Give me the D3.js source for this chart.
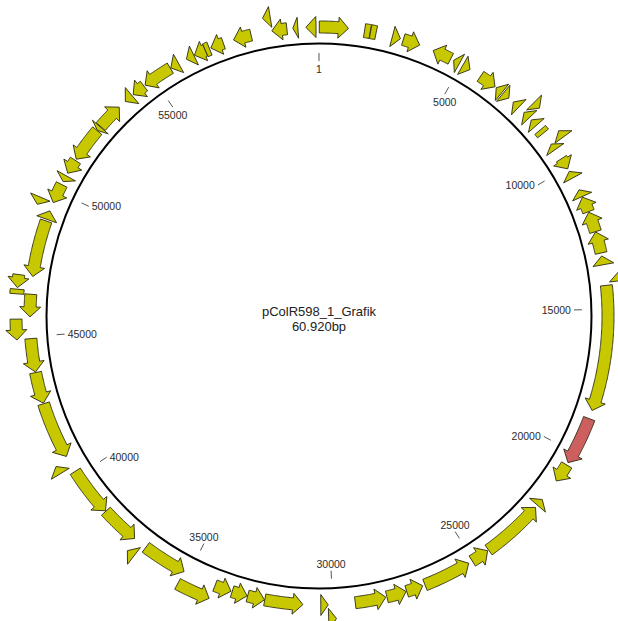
<!DOCTYPE html>
<html><head><meta charset="utf-8">
<script src="https://cdn.jsdelivr.net/npm/d3@7"></script>
<style>html,body{margin:0;padding:0;background:#fff;} svg{display:block;}</style>
</head><body>
<svg id="chart" width="618" height="621"></svg>
<script>
const plasmidName = "pColR598_1_Grafik";
const plasmidSizeLabel = "60.920bp";
const genomeLength = 60920;
const tickPositions = [1, 5000, 10000, 15000, 20000, 25000, 30000, 35000, 40000, 45000, 50000, 55000];
const tickLabels = ["1", "5000", "10000", "15000", "20000", "25000", "30000", "35000", "40000", "45000", "50000", "55000"];

// gene features (bp), strand: 1 forward, -1 reverse, 0 no direction; track: 0 inner, 1 outer
const geneStart  = [10, 1535, 1740, 2490, 2870, 3940, 4700, 5050, 5750, 6400, 6700, 7150, 7650, 7650, 8000, 8450, 8850, 9050, 9650, 10150,
                    10850, 11120, 11670, 12370, 13200, 13800, 14200, 18750, 20480, 21900, 22250, 24420, 25180, 26900, 27490, 28200, 29900, 30150, 31000, 32300,
                    32900, 33460, 34060, 35170, 36830, 37170, 38520, 40380, 40770, 42720, 43800, 44920, 45660, 46400, 46600, 47020, 49000, 49350, 49600, 50380,
                    50700, 51250, 52450, 52620, 53800, 54150, 54660, 55700, 56300, 56600, 57000, 57200, 58010, 59100, 59330, 60040, 60480];
const geneEnd    = [990, 1730, 1930, 2770, 3450, 4590, 4920, 5330, 6350, 6650, 6950, 7400, 7900, 7900, 8250, 8600, 9100, 9280, 10050, 10400,
                    11100, 11650, 12360, 13100, 13500, 14100, 18460, 20390, 21120, 22150, 24380, 25040, 26820, 27470, 28160, 29240, 30150, 30400, 32290, 32880,
                    33420, 34030, 35170, 36690, 37100, 38500, 40190, 40650, 42700, 43780, 44930, 45590, 46420, 46550, 47020, 48940, 49300, 49600, 50270, 50600,
                    51200, 52440, 52600, 53520, 54100, 54610, 55680, 56000, 56580, 57000, 57150, 57650, 58620, 59350, 59840, 60210, 60820];
const geneStrand = [1, 0, 0, 1, 1, -1, -1, 1, 1, -1, 1, -1, 1, -1, -1, 0, -1, -1, 1, -1,
                    -1, -1, -1, -1, -1, -1, 1, 1, 1, -1, -1, -1, -1, -1, -1, -1, -1, -1, -1, -1,
                    -1, -1, -1, -1, 1, -1, -1, 1, -1, -1, -1, -1, -1, 0, -1, -1, 1, -1, -1, -1,
                    -1, -1, -1, 1, -1, -1, -1, -1, -1, -1, 0, -1, -1, -1, -1, -1, -1];
const geneTrack  = [0, 0, 0, 0, 0, 0, 0, 0, 0, 0, 0, 0, 1, 0, 0, 0, 1, 0, 0, 0,
                    0, 0, 0, 0, 0, 1, 0, 0, 0, 0, 0, 0, 0, 0, 0, 0, 1, 0, 0, 0,
                    0, 0, 1, 0, 1, 0, 0, 1, 0, 0, 0, 1, 0, 1, 1, 0, 0, 1, 0, 0,
                    0, 0, 0, 0, 0, 0, 0, 0, 0, 0, 0, 0, 0, 1, 0, 0, 0];
const highlightedGenes = [28]; // 1-based order of the red feature

const cx = 319, cy = 316, R = 272.5;
const svg = d3.select("#chart");
const angle = d3.scaleLinear().domain([0, genomeLength]).range([0, 2 * Math.PI]);
const trackRadius = d3.scaleOrdinal().domain([0, 1]).range([289, 303]);
const colorScale = d3.scaleOrdinal().domain(["cds", "hl"]).range(["#c8c800", "#cd5f5f"]);

function pt(r, a) { return [cx + r * Math.sin(a), cy - r * Math.cos(a)]; }
function arcPts(r, a0, a1) {
  const n = Math.max(1, Math.ceil(Math.abs(a1 - a0) / 0.004));
  const out = [];
  for (let i = 0; i <= n; i++) out.push(pt(r, a0 + (a1 - a0) * i / n));
  return out;
}
function genePoints(s, e, strand, rc) {
  const a0 = angle(s), a1 = angle(e);
  const hb = 6, hh = 10.5, headA = 10 / rc;
  if (strand === 0) {
    return arcPts(rc + 7, a0, a1).concat(arcPts(rc - 7, a1, a0));
  }
  const tipA = strand > 0 ? a1 : a0;
  const tailA = strand > 0 ? a0 : a1;
  const dir = strand > 0 ? 1 : -1;
  const baseA = tipA - dir * headA;
  if (dir * (baseA - tailA) > 0) {
    return arcPts(rc + hb, tailA, baseA)
      .concat([pt(rc + hh, baseA), pt(rc, tipA), pt(rc - hh, baseA)])
      .concat(arcPts(rc - hb, baseA, tailA));
  }
  return [pt(rc + hh, tailA), pt(rc, tipA), pt(rc - hh, tailA)];
}

const genes = geneStart.map((s, i) => ({
  s, e: geneEnd[i], strand: geneStrand[i], track: geneTrack[i],
  type: highlightedGenes.includes(i + 1) ? "hl" : "cds"
}));

const line = d3.line();
svg.append("g").selectAll("path").data(genes).join("path")
  .attr("d", d => line(genePoints(d.s, d.e, d.strand, trackRadius(d.track))) + "Z")
  .attr("fill", d => colorScale(d.type))
  .attr("stroke", "#2a2a12")
  .attr("stroke-width", 0.9)
  .attr("stroke-linejoin", "miter");

// backbone circle
svg.append("circle").attr("cx", cx).attr("cy", cy).attr("r", R)
  .attr("fill", "none").attr("stroke", "#000").attr("stroke-width", 2);

// ticks
const tg = svg.append("g");
tickPositions.forEach((p, i) => {
  const a = angle(p === 1 ? 0 : p);
  const [x1, y1] = pt(263, a), [x2, y2] = pt(255, a);
  tg.append("line").attr("x1", x1).attr("y1", y1).attr("x2", x2).attr("y2", y2)
    .attr("stroke", "#555").attr("stroke-width", 1);
  const sa = Math.sin(a), ca = Math.cos(a);
  const t = tg.append("text").text(tickLabels[i])
    .attr("font-family", "'Liberation Sans', Arial, sans-serif")
    .attr("font-size", 10.5).attr("fill", "#2b2b2b");
  if (Math.abs(sa) > 0.7) {
    t.attr("x", x2 - (sa > 0 ? 3 : -3)).attr("y", y2 + 3.7)
      .attr("text-anchor", sa > 0 ? "end" : "start");
  } else if (ca > 0) {
    t.attr("x", x2).attr("y", y2 + 11.5).attr("text-anchor", "middle");
  } else {
    t.attr("x", x2).attr("y", y2 - 3).attr("text-anchor", "middle");
  }
});

// center labels
svg.append("text").text(plasmidName).attr("x", cx).attr("y", 316)
  .attr("text-anchor", "middle").attr("font-family", "'Liberation Sans', Arial, sans-serif")
  .attr("font-size", 13).attr("fill", "#222");
svg.append("text").text(plasmidSizeLabel).attr("x", cx).attr("y", 331)
  .attr("text-anchor", "middle").attr("font-family", "'Liberation Sans', Arial, sans-serif")
  .attr("font-size", 13).attr("fill", "#222");
</script>
</body></html>
